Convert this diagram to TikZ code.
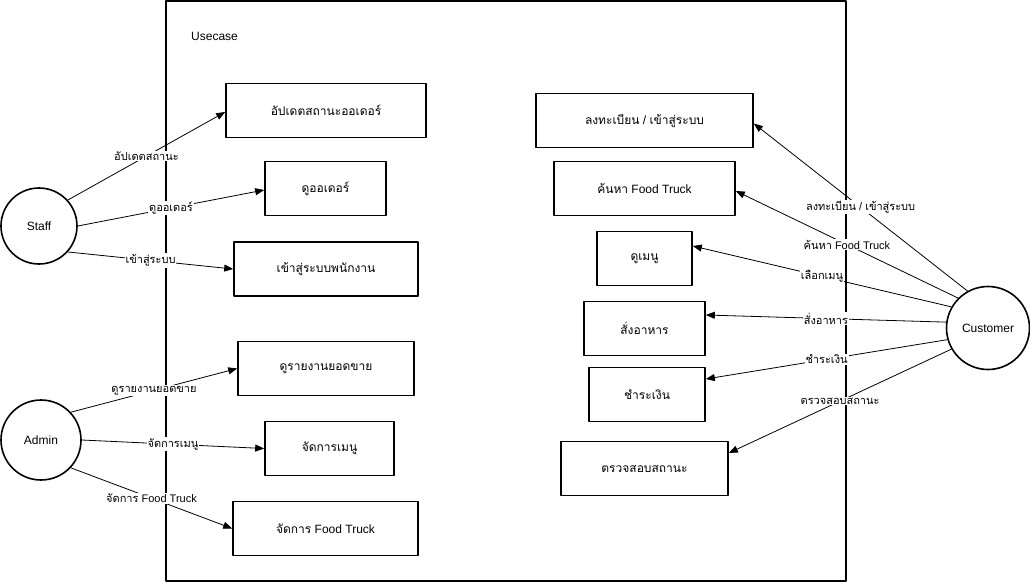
\documentclass[tikz,border=0pt]{standalone}
\usepackage{fontspec}
\setmainfont{Liberation Sans}
\newfontfamily\thaifont[Script=Thai]{Loma}
\newcommand{\thai}[1]{{\thaifont #1}}
\usetikzlibrary{arrows.meta}
\begin{document}
\begin{tikzpicture}[x=1pt, y=-1pt, line join=round, >={Triangle[length=9pt,width=7pt]}, font=\fontsize{12}{14}\selectfont]
	\tikzset{usecase/.style={draw, line width=1.6pt, minimum height=54pt, inner sep=0pt},
		actor/.style={draw, circle, line width=1.6pt, inner sep=0pt},
		lbl/.style={midway, fill=white, inner sep=1pt, font=\fontsize{11}{13}\selectfont},
		link/.style={->, line width=0.8pt}}
	\useasboundingbox (0,0) rectangle (1030,582);
	%Khung he thong
	\draw[line width=1.6pt] (166,1) rectangle (846,581);
	\node[anchor=west, inner sep=0pt] (title) at (191,36) {Usecase};
	%Tac nhan
	\node[actor, minimum size=76pt] (staff) at (39,226) {Staff};
	\node[actor, minimum size=80pt] (admin) at (41,440) {Admin};
	\node[actor, minimum size=83pt] (customer) at (988,328) {Customer};
	%Usecase ben trai
	\node[usecase, minimum width=200pt] (upd) at (326,110.5) {\thai{อัปเดตสถานะออเดอร์}};
	\node[usecase, minimum width=121pt] (vieworder) at (325.5,188.5) {\thai{ดูออเดอร์}};
	\node[usecase, minimum width=184pt] (stafflogin) at (326,269) {\thai{เข้าสู่ระบบพนักงาน}};
	\node[usecase, minimum width=176pt] (report) at (326,368.5) {\thai{ดูรายงานยอดขาย}};
	\node[usecase, minimum width=129pt] (menumgr) at (329.5,448.5) {\thai{จัดการเมนู}};
	\node[usecase, minimum width=185pt] (truckmgr) at (325.5,528.5) {\thai{จัดการ} Food Truck};
	%Usecase ben phai
	\node[usecase, minimum width=217pt] (register) at (644.5,120.5) {\thai{ลงทะเบียน} / \thai{เข้าสู่ระบบ}};
	\node[usecase, minimum width=181pt] (search) at (644.5,188.5) {\thai{ค้นหา} Food Truck};
	\node[usecase, minimum width=95pt] (viewmenu) at (644.5,258.5) {\thai{ดูเมนู}};
	\node[usecase, minimum width=121pt] (order) at (644.5,328.5) {\thai{สั่งอาหาร}};
	\node[usecase, minimum width=116pt] (pay) at (647,394.5) {\thai{ชำระเงิน}};
	\node[usecase, minimum width=167pt] (status) at (644.5,468.5) {\thai{ตรวจสอบสถานะ}};
	%Staff
	\draw[link] (staff.42) -- ([yshift=-1.5pt]upd.west) node[lbl]{\thai{อัปเดตสถานะ}};
	\draw[link] (staff.0) -- ([yshift=-1.5pt]vieworder.west) node[lbl]{\thai{ดูออเดอร์}};
	\draw[link] (staff.-42) -- (stafflogin.west) node[lbl]{\thai{เข้าสู่ระบบ}};
	%Admin
	\draw[link] (admin.43) -- (report.west) node[lbl]{\thai{ดูรายงานยอดขาย}};
	\draw[link] (admin.0) -- (menumgr.west) node[lbl]{\thai{จัดการเมนู}};
	\draw[link] (admin.-43) -- (truckmgr.west) node[lbl]{\thai{จัดการ} Food Truck};
	%Customer
	\draw[link] (customer.119) -- ([yshift=-3pt]register.east) node[lbl]{\thai{ลงทะเบียน} / \thai{เข้าสู่ระบบ}};
	\draw[link] (customer.135) -- ([yshift=-2.5pt]search.east) node[lbl]{\thai{ค้นหา} Food Truck};
	\draw[link] (customer.150) -- ([yshift=12.5pt]viewmenu.east) node[lbl]{\thai{เลือกเมนู}};
	\draw[link] (customer.172) -- ([yshift=13.5pt]order.east) node[lbl]{\thai{สั่งอาหาร}};
	\draw[link] (customer.196) -- ([yshift=15.5pt]pay.east) node[lbl]{\thai{ชำระเงิน}};
	\draw[link] (customer.210) -- ([yshift=15.5pt]status.east) node[lbl]{\thai{ตรวจสอบสถานะ}};
\end{tikzpicture}
\end{document}
